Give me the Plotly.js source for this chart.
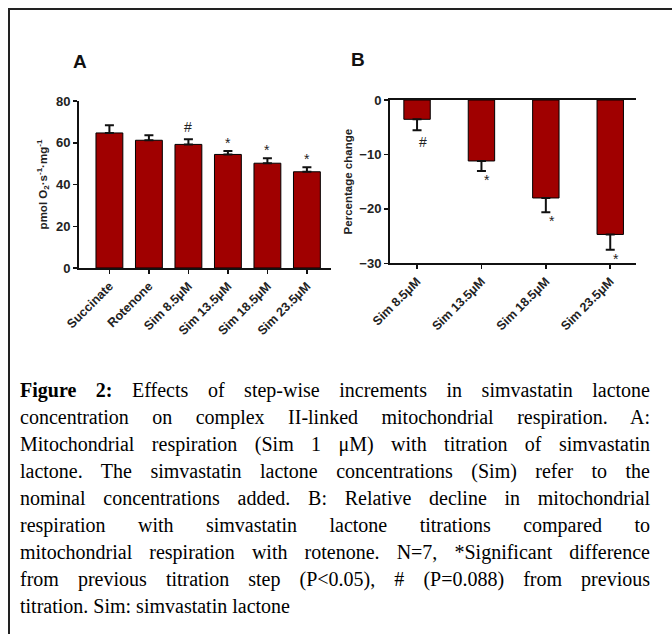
<!DOCTYPE html>
<html>
<head>
<meta charset="utf-8">
<script src="https://cdn.plot.ly/plotly-3.0.1.min.js"></script>
<style>
  html, body { margin: 0; padding: 0; background: #fff; }
  #wrap { position: relative; width: 672px; height: 634px; overflow: hidden; }
  #chart { position: absolute; left: 0; top: 0; width: 672px; height: 634px; }
  #frameTop { position: absolute; left: 8px; top: 8px; width: 700px; height: 0; border-top: 2px solid #222; }
  #frameLeft { position: absolute; left: 8px; top: 8px; width: 0; height: 700px; border-left: 2px solid #222; }
  #caption { position: absolute; left: 20px; top: 377px; width: 630px;
             font-family: "Liberation Serif", "Times New Roman", serif; font-size: 20px; line-height: 27px; color: #000; }
  #caption div { text-align: justify; text-align-last: justify; white-space: nowrap; }
  #caption div.last { text-align-last: left; }
</style>
</head>
<body>
<div id="wrap">
  <div id="chart"></div>
  <div id="frameTop"></div>
  <div id="frameLeft"></div>
  <div id="caption"></div>
</div>
<script>
// ---- Data: panel A ----
const catsA = ["Succinate", "Rotenone", "Sim 8.5μM", "Sim 13.5μM", "Sim 18.5μM", "Sim 23.5μM"];
const valsA = [64.7, 61.2, 59.2, 54.4, 50.2, 46.1];
const errA  = [3.7, 2.4, 2.5, 1.7, 2.4, 2.2];
const markA = ["", "", "#", "*", "*", "*"];
const ticksA = [0, 20, 40, 60, 80];

// ---- Data: panel B ----
const catsB = ["Sim 8.5μM", "Sim 13.5μM", "Sim 18.5μM", "Sim 23.5μM"];
const valsB = [-3.55, -11.2, -18.0, -24.7];
const errB  = [2.0, 1.85, 2.6, 2.8];
const markB = ["#", "*", "*", "*"];
const ticksB = [-30, -20, -10, 0];

// ---- Caption lines ----
const captionLines = [
  "<b>Figure 2:</b> Effects of step-wise increments in simvastatin lactone",
  "concentration on complex II-linked mitochondrial respiration. A:",
  "Mitochondrial respiration (Sim 1 μM) with titration of simvastatin",
  "lactone. The simvastatin lactone concentrations (Sim) refer to the",
  "nominal concentrations added. B: Relative decline in mitochondrial",
  "respiration with simvastatin lactone titrations compared to",
  "mitochondrial respiration with rotenone. N=7, *Significant difference",
  "from previous titration step (P&lt;0.05), # (P=0.088) from previous",
  "titration. Sim: simvastatin lactone"
];

const cap = document.getElementById("caption");
captionLines.forEach((t, i) => {
  const d = document.createElement("div");
  d.innerHTML = t;
  if (i === captionLines.length - 1) d.className = "last";
  cap.appendChild(d);
});

const barColor = "#A00000";
const F = "Liberation Sans, Arial, sans-serif";

const traceA = {
  type: "bar", x: catsA.map((c, i) => i), y: valsA,
  xaxis: "x", yaxis: "y", width: 0.68,
  marker: { color: barColor, line: { color: "#000", width: 1 } },
  error_y: { type: "data", symmetric: false, array: errA, arrayminus: errA.map(() => 0),
             color: "#111", thickness: 2, width: 4.5 },
  hoverinfo: "skip"
};
const traceB = {
  type: "bar", x: catsB.map((c, i) => i), y: valsB,
  xaxis: "x2", yaxis: "y2", width: 0.41,
  marker: { color: barColor, line: { color: "#000", width: 1 } },
  error_y: { type: "data", symmetric: false, array: valsB.map(() => 0), arrayminus: errB,
             color: "#111", thickness: 2, width: 4.5 },
  hoverinfo: "skip"
};

const annotations = [];
valsA.forEach((v, i) => {
  if (!markA[i]) return;
  annotations.push({ xref: "x", yref: "y", x: i, y: v + errA[i], text: markA[i],
    showarrow: false, yanchor: "bottom", yshift: markA[i] === "*" ? -2 : 2,
    font: { family: F, size: 14, color: "#222" } });
});
valsB.forEach((v, i) => {
  annotations.push({ xref: "x2", yref: "y2", x: i, y: v - errB[i], text: markB[i],
    showarrow: false, yanchor: "top", xshift: 6, yshift: markB[i] === "*" ? 1 : -2,
    font: { family: F, size: 14, color: "#222" } });
});
annotations.push({ xref: "paper", yref: "paper", x: 80/672, y: (634-62)/634, text: "<b>A</b>",
  showarrow: false, xanchor: "center", yanchor: "middle", font: { family: F, size: 19, color: "#111" } });
annotations.push({ xref: "paper", yref: "paper", x: 358/672, y: (634-60)/634, text: "<b>B</b>",
  showarrow: false, xanchor: "center", yanchor: "middle", font: { family: F, size: 19, color: "#111" } });

const axisCommon = {
  showgrid: false, zeroline: false, showline: true, linecolor: "#111", linewidth: 2,
  ticks: "outside", ticklen: 4, tickwidth: 1.5, tickcolor: "#111",
  tickfont: { family: F, size: 13, color: "#222", weight: "bold" }
};

const layout = {
  width: 672, height: 634, margin: { l: 0, r: 0, t: 0, b: 0 },
  paper_bgcolor: "#fff", plot_bgcolor: "rgba(0,0,0,0)", showlegend: false,
  xaxis: Object.assign({}, axisCommon, {
    domain: [79/672, 331/672], range: [-0.77, 5.61], anchor: "y",
    tickmode: "array", tickvals: catsA.map((c, i) => i), ticktext: catsA, tickangle: -45,
    tickfont: { family: F, size: 12.5, color: "#222", weight: "bold" }
  }),
  yaxis: Object.assign({}, axisCommon, {
    domain: [(634-268)/634, (634-101)/634], range: [0, 80], anchor: "x",
    tickmode: "array", tickvals: ticksA,
    title: { text: "pmol O<sub>2</sub>·s<sup>-1</sup>·mg<sup>-1</sup>", standoff: 6,
             font: { family: F, size: 11.5, color: "#222", weight: "bold" } }
  }),
  xaxis2: Object.assign({}, axisCommon, {
    domain: [390/672, 636/672], range: [-0.42, 3.40], anchor: "y2", mirror: true,
    tickmode: "array", tickvals: catsB.map((c, i) => i), ticktext: catsB, tickangle: -45,
    tickfont: { family: F, size: 12.5, color: "#222", weight: "bold" }
  }),
  yaxis2: Object.assign({}, axisCommon, {
    domain: [(634-263.3)/634, (634-100)/634], range: [-30, 0], anchor: "x2",
    tickmode: "array", tickvals: ticksB,
    title: { text: "Percentage change", standoff: 4,
             font: { family: F, size: 11.5, color: "#222", weight: "bold" } }
  }),
  annotations: annotations
};

Plotly.newPlot("chart", [traceA, traceB], layout, { staticPlot: true, displayModeBar: false });
</script>
</body>
</html>
